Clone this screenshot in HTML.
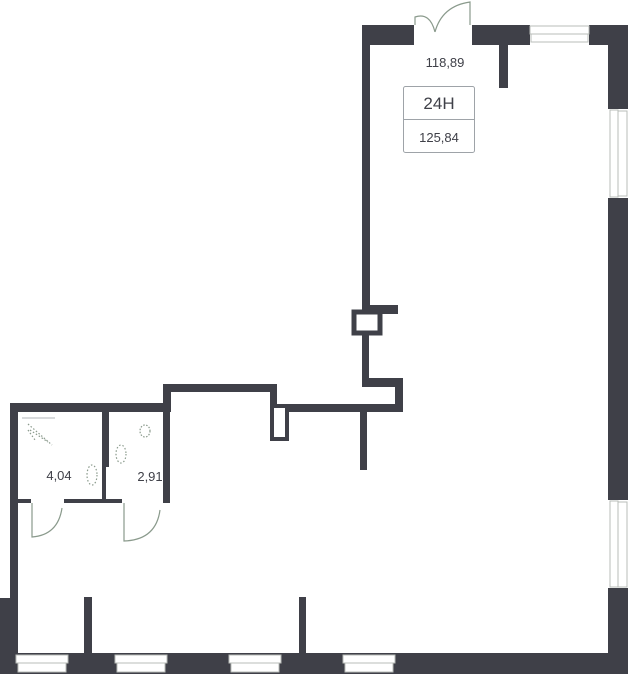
<!DOCTYPE html>
<html><head><meta charset="utf-8"><style>
html,body{margin:0;padding:0;background:#fff;}
svg{display:block;}
text{font-family:"Liberation Sans",sans-serif;fill:#3f4048;}
</style></head><body>
<svg width="628" height="674" viewBox="0 0 628 674" xmlns="http://www.w3.org/2000/svg">
<g fill="#3f4048">
<!-- tower top wall -->
<rect x="362" y="25" width="52" height="20"/>
<rect x="472" y="25" width="58" height="20"/>
<rect x="499" y="25" width="9" height="63"/>
<rect x="589" y="25" width="39" height="20"/>
<rect x="608" y="25" width="20" height="84"/>
<rect x="608" y="198" width="20" height="302"/>
<rect x="608" y="588" width="20" height="86"/>
<!-- tower left wall -->
<rect x="362" y="25" width="8" height="285"/>
<rect x="362" y="305" width="36" height="9"/>
<rect x="362" y="334" width="7" height="52"/>
<rect x="362" y="378" width="41" height="9"/>
<rect x="395" y="378" width="8" height="34"/>
<rect x="275" y="404" width="128" height="8"/>
<rect x="360" y="404" width="7" height="66"/>
<!-- raised part -->
<rect x="163" y="384" width="114" height="8"/>
<rect x="163" y="384" width="8" height="28"/>
<rect x="270" y="384" width="7" height="28"/>
<!-- left top wall -->
<rect x="10" y="403" width="160" height="9"/>
<rect x="10" y="403" width="8" height="271"/>
<rect x="0" y="598" width="18" height="76"/>
<!-- bathrooms -->
<rect x="102" y="410" width="7" height="57"/>
<rect x="102" y="460" width="4" height="42"/>
<rect x="163" y="410" width="7" height="93"/>
<rect x="17" y="499" width="14" height="4"/>
<rect x="64" y="499" width="42" height="4"/>
<rect x="106" y="499" width="16" height="4"/>
<rect x="164" y="499" width="6" height="4"/>
<!-- bottom wall -->
<rect x="0" y="653" width="628" height="21"/>
<rect x="84" y="597" width="8" height="56"/>
<rect x="299" y="597" width="7" height="56"/>
</g>
<!-- boxes -->
<rect x="354" y="312" width="26" height="21" fill="#fff" stroke="#3f4048" stroke-width="5"/>
<rect x="272" y="406" width="15" height="33" fill="#fff" stroke="#3f4048" stroke-width="4"/>
<!-- windows -->
<g fill="#fff" stroke="#b8bcb8" stroke-width="1">
<rect x="530" y="26" width="59" height="8"/><rect x="531" y="34" width="57" height="8"/>
<rect x="610" y="110" width="8" height="87"/><rect x="618" y="111" width="9" height="85"/>
<rect x="610" y="501" width="8" height="86"/><rect x="618" y="502" width="9" height="85"/>
<rect x="16" y="655" width="52" height="8"/><rect x="18" y="663" width="48" height="9"/>
<rect x="115" y="655" width="52" height="8"/><rect x="117" y="663" width="48" height="9"/>
<rect x="229" y="655" width="52" height="8"/><rect x="231" y="663" width="48" height="9"/>
<rect x="343" y="655" width="52" height="8"/><rect x="345" y="663" width="48" height="9"/>
</g>
<!-- doors -->
<g fill="none" stroke="#8a9a8c" stroke-width="1.2">
<path d="M415 25 V17 Q430 12 435 32"/>
<path d="M470 25 V2 Q442 6 435 32"/>
<path d="M32 503 V537 Q58 535 62 508"/>
<path d="M124 503 V541 Q156 540 160 510"/>
<line x1="22" y1="418" x2="55" y2="418" stroke="#c0c4c8"/>
<path d="M28 424 L52 445 M30 430 L48 442 M28 430 L35 440" stroke-dasharray="1.5 2"/>
<ellipse cx="145" cy="431" rx="5" ry="6" stroke-dasharray="1.5 1.5"/>
<ellipse cx="121" cy="454" rx="5" ry="9" stroke-dasharray="1.5 2"/>
<ellipse cx="92" cy="475" rx="5" ry="10" stroke-dasharray="1.5 2"/>
</g>
<!-- labels -->
<text x="445" y="67" font-size="13" text-anchor="middle">118,89</text>
<rect x="403.5" y="86.5" width="71" height="66" rx="2" fill="none" stroke="#9ea3a8" stroke-width="1"/>
<line x1="403.5" y1="119.5" x2="474.5" y2="119.5" stroke="#9ea3a8"/>
<text x="439" y="109" font-size="17" text-anchor="middle">24Н</text>
<text x="439" y="142" font-size="13" text-anchor="middle">125,84</text>
<text x="59" y="480" font-size="13" text-anchor="middle">4,04</text>
<text x="150" y="481" font-size="13" text-anchor="middle">2,91</text>
</svg>
</body></html>
